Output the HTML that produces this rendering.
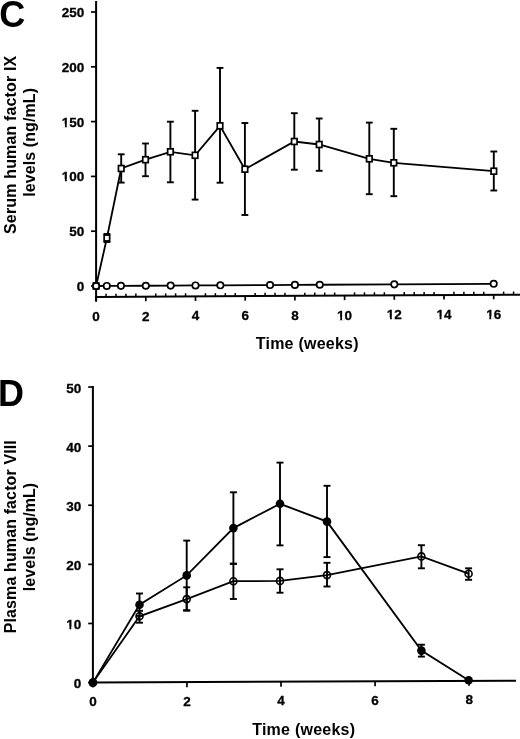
<!DOCTYPE html>
<html><head><meta charset="utf-8"><style>
html,body{margin:0;padding:0;background:#fff;}
body{width:520px;height:739px;overflow:hidden;}
svg{display:block;filter:grayscale(1);}
text{font-family:"Liberation Sans",sans-serif;font-weight:bold;fill:#000;stroke:none;}
text.n{stroke:#000;stroke-width:0.3px;}
</style></head><body>
<svg width="520" height="739" viewBox="0 0 520 739">
<defs><clipPath id="c1"><path clip-rule="evenodd" d="M56.78,161.30H89.30V189.30H56.78ZM61.83,179.10H64.93V182.50H61.83ZM66.78,179.10H69.31V182.50H66.78Z"/></clipPath><clipPath id="c2"><path clip-rule="evenodd" d="M56.78,106.50H89.30V134.50H56.78ZM61.83,124.30H64.93V127.70H61.83ZM66.78,124.30H69.31V127.70H66.78Z"/></clipPath><clipPath id="c3"><path clip-rule="evenodd" d="M332.09,299.53H357.11V327.53H332.09ZM337.14,317.33H340.24V320.73H337.14ZM342.10,317.33H344.62V320.73H342.10Z"/></clipPath><clipPath id="c4"><path clip-rule="evenodd" d="M381.79,299.26H406.81V327.26H381.79ZM386.84,317.06H389.94V320.46H386.84ZM391.80,317.06H394.32V320.46H391.80Z"/></clipPath><clipPath id="c5"><path clip-rule="evenodd" d="M431.49,298.99H456.51V326.99H431.49ZM436.54,316.79H439.64V320.19H436.54ZM441.50,316.79H444.02V320.19H441.50Z"/></clipPath><clipPath id="c6"><path clip-rule="evenodd" d="M481.19,298.71H506.21V326.71H481.19ZM486.24,316.51H489.34V319.91H486.24ZM491.20,316.51H493.72V319.91H491.20Z"/></clipPath><clipPath id="c7"><path clip-rule="evenodd" d="M61.28,608.98H86.30V636.98H61.28ZM66.33,626.78H69.43V630.18H66.33ZM71.29,626.78H73.82V630.18H71.29Z"/></clipPath></defs>
<rect width="520" height="739" fill="#fff"/>
<g stroke="#000" stroke-linecap="butt">
<line x1="96.10" y1="1.00" x2="96.10" y2="301.50" stroke-width="2.0"/>
<line x1="91.00" y1="286.00" x2="96.10" y2="286.00" stroke-width="1.7"/>
<text class="n" x="84.30" y="290.90" font-size="13.5" text-anchor="end" >0</text>
<line x1="91.00" y1="231.20" x2="96.10" y2="231.20" stroke-width="1.7"/>
<text class="n" x="84.30" y="236.10" font-size="13.5" text-anchor="end" >50</text>
<line x1="91.00" y1="176.40" x2="96.10" y2="176.40" stroke-width="1.7"/>
<text class="n" x="84.30" y="181.30" font-size="13.5" text-anchor="end" clip-path="url(#c1)" >100</text>
<line x1="91.00" y1="121.60" x2="96.10" y2="121.60" stroke-width="1.7"/>
<text class="n" x="84.30" y="126.50" font-size="13.5" text-anchor="end" clip-path="url(#c2)" >150</text>
<line x1="91.00" y1="66.80" x2="96.10" y2="66.80" stroke-width="1.7"/>
<text class="n" x="84.30" y="71.70" font-size="13.5" text-anchor="end" >200</text>
<line x1="91.00" y1="12.00" x2="96.10" y2="12.00" stroke-width="1.7"/>
<text class="n" x="84.30" y="16.90" font-size="13.5" text-anchor="end" >250</text>
<line x1="95.10" y1="297.00" x2="520.00" y2="294.66" stroke-width="2.0"/>
<line x1="96.10" y1="297.00" x2="96.10" y2="301.50" stroke-width="1.7"/>
<text class="n" x="96.10" y="320.90" font-size="13.5" text-anchor="middle" >0</text>
<line x1="106.04" y1="296.94" x2="106.04" y2="293.74" stroke-width="1.5"/>
<line x1="115.98" y1="296.89" x2="115.98" y2="293.69" stroke-width="1.5"/>
<line x1="125.92" y1="296.83" x2="125.92" y2="293.63" stroke-width="1.5"/>
<line x1="135.86" y1="296.78" x2="135.86" y2="293.58" stroke-width="1.5"/>
<line x1="145.80" y1="296.72" x2="145.80" y2="301.22" stroke-width="1.7"/>
<text class="n" x="145.80" y="320.63" font-size="13.5" text-anchor="middle" >2</text>
<line x1="155.74" y1="296.67" x2="155.74" y2="293.47" stroke-width="1.5"/>
<line x1="165.68" y1="296.61" x2="165.68" y2="293.41" stroke-width="1.5"/>
<line x1="175.62" y1="296.56" x2="175.62" y2="293.36" stroke-width="1.5"/>
<line x1="185.56" y1="296.50" x2="185.56" y2="293.30" stroke-width="1.5"/>
<line x1="195.50" y1="296.45" x2="195.50" y2="300.95" stroke-width="1.7"/>
<text class="n" x="195.50" y="320.35" font-size="13.5" text-anchor="middle" >4</text>
<line x1="205.44" y1="296.39" x2="205.44" y2="293.19" stroke-width="1.5"/>
<line x1="215.38" y1="296.34" x2="215.38" y2="293.14" stroke-width="1.5"/>
<line x1="225.32" y1="296.28" x2="225.32" y2="293.08" stroke-width="1.5"/>
<line x1="235.26" y1="296.23" x2="235.26" y2="293.03" stroke-width="1.5"/>
<line x1="245.20" y1="296.17" x2="245.20" y2="300.67" stroke-width="1.7"/>
<text class="n" x="245.20" y="320.08" font-size="13.5" text-anchor="middle" >6</text>
<line x1="255.14" y1="296.12" x2="255.14" y2="292.92" stroke-width="1.5"/>
<line x1="265.08" y1="296.06" x2="265.08" y2="292.86" stroke-width="1.5"/>
<line x1="275.02" y1="296.01" x2="275.02" y2="292.81" stroke-width="1.5"/>
<line x1="284.96" y1="295.96" x2="284.96" y2="292.76" stroke-width="1.5"/>
<line x1="294.90" y1="295.90" x2="294.90" y2="300.40" stroke-width="1.7"/>
<text class="n" x="294.90" y="319.81" font-size="13.5" text-anchor="middle" >8</text>
<line x1="304.84" y1="295.85" x2="304.84" y2="292.65" stroke-width="1.5"/>
<line x1="314.78" y1="295.79" x2="314.78" y2="292.59" stroke-width="1.5"/>
<line x1="324.72" y1="295.74" x2="324.72" y2="292.54" stroke-width="1.5"/>
<line x1="334.66" y1="295.68" x2="334.66" y2="292.48" stroke-width="1.5"/>
<line x1="344.60" y1="295.63" x2="344.60" y2="300.13" stroke-width="1.7"/>
<text class="n" x="344.60" y="319.53" font-size="13.5" text-anchor="middle" clip-path="url(#c3)" >10</text>
<line x1="354.54" y1="295.57" x2="354.54" y2="292.37" stroke-width="1.5"/>
<line x1="364.48" y1="295.52" x2="364.48" y2="292.32" stroke-width="1.5"/>
<line x1="374.42" y1="295.46" x2="374.42" y2="292.26" stroke-width="1.5"/>
<line x1="384.36" y1="295.41" x2="384.36" y2="292.21" stroke-width="1.5"/>
<line x1="394.30" y1="295.35" x2="394.30" y2="299.85" stroke-width="1.7"/>
<text class="n" x="394.30" y="319.26" font-size="13.5" text-anchor="middle" clip-path="url(#c4)" >12</text>
<line x1="404.24" y1="295.30" x2="404.24" y2="292.10" stroke-width="1.5"/>
<line x1="414.18" y1="295.24" x2="414.18" y2="292.04" stroke-width="1.5"/>
<line x1="424.12" y1="295.19" x2="424.12" y2="291.99" stroke-width="1.5"/>
<line x1="434.06" y1="295.13" x2="434.06" y2="291.93" stroke-width="1.5"/>
<line x1="444.00" y1="295.08" x2="444.00" y2="299.58" stroke-width="1.7"/>
<text class="n" x="444.00" y="318.99" font-size="13.5" text-anchor="middle" clip-path="url(#c5)" >14</text>
<line x1="453.94" y1="295.02" x2="453.94" y2="291.82" stroke-width="1.5"/>
<line x1="463.88" y1="294.97" x2="463.88" y2="291.77" stroke-width="1.5"/>
<line x1="473.82" y1="294.91" x2="473.82" y2="291.71" stroke-width="1.5"/>
<line x1="483.76" y1="294.86" x2="483.76" y2="291.66" stroke-width="1.5"/>
<line x1="493.70" y1="294.80" x2="493.70" y2="299.30" stroke-width="1.7"/>
<text class="n" x="493.70" y="318.71" font-size="13.5" text-anchor="middle" clip-path="url(#c6)" >16</text>
<line x1="503.64" y1="294.75" x2="503.64" y2="291.55" stroke-width="1.5"/>
<line x1="513.58" y1="294.69" x2="513.58" y2="291.49" stroke-width="1.5"/>
<text x="307.15" y="348.90" font-size="16" text-anchor="middle" textLength="102.8" lengthAdjust="spacing">Time (weeks)</text>
<text transform="translate(16.1,144.85) rotate(-90)" font-size="16" text-anchor="middle" textLength="178.3" lengthAdjust="spacing">Serum human factor IX</text>
<text transform="translate(34.6,142.35) rotate(-90)" font-size="16" text-anchor="middle" textLength="108.7" lengthAdjust="spacing">levels (ng/mL)</text>
<text x="-0.8" y="27" font-size="36">C</text>
<line x1="106.90" y1="234.00" x2="106.90" y2="242.00" stroke-width="1.9"/>
<line x1="103.50" y1="234.00" x2="110.30" y2="234.00" stroke-width="1.9"/>
<line x1="103.50" y1="242.00" x2="110.30" y2="242.00" stroke-width="1.9"/>
<line x1="121.20" y1="154.30" x2="121.20" y2="182.60" stroke-width="1.9"/>
<line x1="117.80" y1="154.30" x2="124.60" y2="154.30" stroke-width="1.9"/>
<line x1="117.80" y1="182.60" x2="124.60" y2="182.60" stroke-width="1.9"/>
<line x1="145.50" y1="143.50" x2="145.50" y2="176.20" stroke-width="1.9"/>
<line x1="142.10" y1="143.50" x2="148.90" y2="143.50" stroke-width="1.9"/>
<line x1="142.10" y1="176.20" x2="148.90" y2="176.20" stroke-width="1.9"/>
<line x1="170.40" y1="121.70" x2="170.40" y2="182.30" stroke-width="1.9"/>
<line x1="167.00" y1="121.70" x2="173.80" y2="121.70" stroke-width="1.9"/>
<line x1="167.00" y1="182.30" x2="173.80" y2="182.30" stroke-width="1.9"/>
<line x1="195.10" y1="110.80" x2="195.10" y2="199.60" stroke-width="1.9"/>
<line x1="191.70" y1="110.80" x2="198.50" y2="110.80" stroke-width="1.9"/>
<line x1="191.70" y1="199.60" x2="198.50" y2="199.60" stroke-width="1.9"/>
<line x1="220.00" y1="67.90" x2="220.00" y2="182.70" stroke-width="1.9"/>
<line x1="216.60" y1="67.90" x2="223.40" y2="67.90" stroke-width="1.9"/>
<line x1="216.60" y1="182.70" x2="223.40" y2="182.70" stroke-width="1.9"/>
<line x1="244.90" y1="123.00" x2="244.90" y2="215.00" stroke-width="1.9"/>
<line x1="241.50" y1="123.00" x2="248.30" y2="123.00" stroke-width="1.9"/>
<line x1="241.50" y1="215.00" x2="248.30" y2="215.00" stroke-width="1.9"/>
<line x1="294.30" y1="113.20" x2="294.30" y2="169.70" stroke-width="1.9"/>
<line x1="290.90" y1="113.20" x2="297.70" y2="113.20" stroke-width="1.9"/>
<line x1="290.90" y1="169.70" x2="297.70" y2="169.70" stroke-width="1.9"/>
<line x1="319.20" y1="118.50" x2="319.20" y2="170.80" stroke-width="1.9"/>
<line x1="315.80" y1="118.50" x2="322.60" y2="118.50" stroke-width="1.9"/>
<line x1="315.80" y1="170.80" x2="322.60" y2="170.80" stroke-width="1.9"/>
<line x1="369.30" y1="122.60" x2="369.30" y2="194.20" stroke-width="1.9"/>
<line x1="365.90" y1="122.60" x2="372.70" y2="122.60" stroke-width="1.9"/>
<line x1="365.90" y1="194.20" x2="372.70" y2="194.20" stroke-width="1.9"/>
<line x1="393.80" y1="128.80" x2="393.80" y2="196.20" stroke-width="1.9"/>
<line x1="390.40" y1="128.80" x2="397.20" y2="128.80" stroke-width="1.9"/>
<line x1="390.40" y1="196.20" x2="397.20" y2="196.20" stroke-width="1.9"/>
<line x1="493.80" y1="151.50" x2="493.80" y2="190.50" stroke-width="1.9"/>
<line x1="490.40" y1="151.50" x2="497.20" y2="151.50" stroke-width="1.9"/>
<line x1="490.40" y1="190.50" x2="497.20" y2="190.50" stroke-width="1.9"/>
<polyline points="96.10,286.00 106.90,238.00 121.20,168.50 145.50,159.70 170.40,151.80 195.10,155.30 220.00,125.80 244.90,169.20 294.30,141.50 319.20,144.50 369.30,158.80 393.80,162.80 493.80,171.20" fill="none" stroke-width="1.8"/>
<polyline points="96.10,286.00 106.79,285.94 120.95,285.86 145.80,285.73 170.65,285.59 195.50,285.45 220.35,285.32 270.05,285.04 294.90,284.91 319.75,284.77 394.30,284.36 493.70,283.81" fill="none" stroke-width="1.8"/>
<rect x="93.35" y="283.05" width="5.5" height="5.9" fill="#fff" stroke-width="1.7"/>
<rect x="104.15" y="235.05" width="5.5" height="5.9" fill="#fff" stroke-width="1.7"/>
<rect x="118.45" y="165.55" width="5.5" height="5.9" fill="#fff" stroke-width="1.7"/>
<rect x="142.75" y="156.75" width="5.5" height="5.9" fill="#fff" stroke-width="1.7"/>
<rect x="167.65" y="148.85" width="5.5" height="5.9" fill="#fff" stroke-width="1.7"/>
<rect x="192.35" y="152.35" width="5.5" height="5.9" fill="#fff" stroke-width="1.7"/>
<rect x="217.25" y="122.85" width="5.5" height="5.9" fill="#fff" stroke-width="1.7"/>
<rect x="242.15" y="166.25" width="5.5" height="5.9" fill="#fff" stroke-width="1.7"/>
<rect x="291.55" y="138.55" width="5.5" height="5.9" fill="#fff" stroke-width="1.7"/>
<rect x="316.45" y="141.55" width="5.5" height="5.9" fill="#fff" stroke-width="1.7"/>
<rect x="366.55" y="155.85" width="5.5" height="5.9" fill="#fff" stroke-width="1.7"/>
<rect x="391.05" y="159.85" width="5.5" height="5.9" fill="#fff" stroke-width="1.7"/>
<rect x="491.05" y="168.25" width="5.5" height="5.9" fill="#fff" stroke-width="1.7"/>
<circle cx="96.10" cy="286.00" r="3.2" fill="#fff" stroke-width="1.7"/>
<circle cx="106.79" cy="285.94" r="3.2" fill="#fff" stroke-width="1.7"/>
<circle cx="120.95" cy="285.86" r="3.2" fill="#fff" stroke-width="1.7"/>
<circle cx="145.80" cy="285.73" r="3.2" fill="#fff" stroke-width="1.7"/>
<circle cx="170.65" cy="285.59" r="3.2" fill="#fff" stroke-width="1.7"/>
<circle cx="195.50" cy="285.45" r="3.2" fill="#fff" stroke-width="1.7"/>
<circle cx="220.35" cy="285.32" r="3.2" fill="#fff" stroke-width="1.7"/>
<circle cx="270.05" cy="285.04" r="3.2" fill="#fff" stroke-width="1.7"/>
<circle cx="294.90" cy="284.91" r="3.2" fill="#fff" stroke-width="1.7"/>
<circle cx="319.75" cy="284.77" r="3.2" fill="#fff" stroke-width="1.7"/>
<circle cx="394.30" cy="284.36" r="3.2" fill="#fff" stroke-width="1.7"/>
<circle cx="493.70" cy="283.81" r="3.2" fill="#fff" stroke-width="1.7"/>
<line x1="92.90" y1="386.10" x2="92.90" y2="683.60" stroke-width="2.0"/>
<line x1="88.20" y1="682.60" x2="92.90" y2="682.60" stroke-width="1.7"/>
<text class="n" x="81.30" y="688.10" font-size="13.5" text-anchor="end" >0</text>
<line x1="88.20" y1="623.48" x2="92.90" y2="623.48" stroke-width="1.7"/>
<text class="n" x="81.30" y="628.98" font-size="13.5" text-anchor="end" clip-path="url(#c7)" >10</text>
<line x1="88.20" y1="564.36" x2="92.90" y2="564.36" stroke-width="1.7"/>
<text class="n" x="81.30" y="569.86" font-size="13.5" text-anchor="end" >20</text>
<line x1="88.20" y1="505.24" x2="92.90" y2="505.24" stroke-width="1.7"/>
<text class="n" x="81.30" y="510.74" font-size="13.5" text-anchor="end" >30</text>
<line x1="88.20" y1="446.12" x2="92.90" y2="446.12" stroke-width="1.7"/>
<text class="n" x="81.30" y="451.62" font-size="13.5" text-anchor="end" >40</text>
<line x1="88.20" y1="387.00" x2="92.90" y2="387.00" stroke-width="1.7"/>
<text class="n" x="81.30" y="392.50" font-size="13.5" text-anchor="end" >50</text>
<line x1="91.90" y1="682.60" x2="516.00" y2="680.65" stroke-width="2.0"/>
<line x1="92.90" y1="682.60" x2="92.90" y2="687.60" stroke-width="1.7"/>
<text class="n" x="92.90" y="706.30" font-size="13.5" text-anchor="middle" >0</text>
<line x1="186.96" y1="682.17" x2="186.96" y2="687.17" stroke-width="1.7"/>
<text class="n" x="186.96" y="705.81" font-size="13.5" text-anchor="middle" >2</text>
<line x1="281.02" y1="681.73" x2="281.02" y2="686.73" stroke-width="1.7"/>
<text class="n" x="281.02" y="705.32" font-size="13.5" text-anchor="middle" >4</text>
<line x1="375.08" y1="681.30" x2="375.08" y2="686.30" stroke-width="1.7"/>
<text class="n" x="375.08" y="704.83" font-size="13.5" text-anchor="middle" >6</text>
<line x1="469.14" y1="680.87" x2="469.14" y2="685.87" stroke-width="1.7"/>
<text class="n" x="469.14" y="704.34" font-size="13.5" text-anchor="middle" >8</text>
<text x="303.60" y="734.90" font-size="16" text-anchor="middle" textLength="102.8" lengthAdjust="spacing">Time (weeks)</text>
<text transform="translate(16.1,536.75) rotate(-90)" font-size="16" text-anchor="middle" textLength="193.1" lengthAdjust="spacing">Plasma human factor VIII</text>
<text transform="translate(34.6,537.0) rotate(-90)" font-size="16" text-anchor="middle" textLength="108.4" lengthAdjust="spacing">levels (ng/mL)</text>
<text x="-1.9" y="406.2" font-size="36">D</text>
<line x1="139.50" y1="593.50" x2="139.50" y2="615.90" stroke-width="1.9"/>
<line x1="136.00" y1="593.50" x2="143.00" y2="593.50" stroke-width="1.9"/>
<line x1="136.00" y1="615.90" x2="143.00" y2="615.90" stroke-width="1.9"/>
<line x1="186.70" y1="540.60" x2="186.70" y2="610.20" stroke-width="1.9"/>
<line x1="183.20" y1="540.60" x2="190.20" y2="540.60" stroke-width="1.9"/>
<line x1="183.20" y1="610.20" x2="190.20" y2="610.20" stroke-width="1.9"/>
<line x1="233.40" y1="492.30" x2="233.40" y2="563.90" stroke-width="1.9"/>
<line x1="229.90" y1="492.30" x2="236.90" y2="492.30" stroke-width="1.9"/>
<line x1="229.90" y1="563.90" x2="236.90" y2="563.90" stroke-width="1.9"/>
<line x1="280.00" y1="462.60" x2="280.00" y2="545.40" stroke-width="1.9"/>
<line x1="276.50" y1="462.60" x2="283.50" y2="462.60" stroke-width="1.9"/>
<line x1="276.50" y1="545.40" x2="283.50" y2="545.40" stroke-width="1.9"/>
<line x1="327.00" y1="485.80" x2="327.00" y2="557.10" stroke-width="1.9"/>
<line x1="323.50" y1="485.80" x2="330.50" y2="485.80" stroke-width="1.9"/>
<line x1="323.50" y1="557.10" x2="330.50" y2="557.10" stroke-width="1.9"/>
<line x1="421.40" y1="644.70" x2="421.40" y2="656.60" stroke-width="1.9"/>
<line x1="417.90" y1="644.70" x2="424.90" y2="644.70" stroke-width="1.9"/>
<line x1="417.90" y1="656.60" x2="424.90" y2="656.60" stroke-width="1.9"/>
<line x1="139.50" y1="610.80" x2="139.50" y2="622.70" stroke-width="1.9"/>
<line x1="136.00" y1="610.80" x2="143.00" y2="610.80" stroke-width="1.9"/>
<line x1="136.00" y1="622.70" x2="143.00" y2="622.70" stroke-width="1.9"/>
<line x1="186.70" y1="587.30" x2="186.70" y2="610.70" stroke-width="1.9"/>
<line x1="183.20" y1="587.30" x2="190.20" y2="587.30" stroke-width="1.9"/>
<line x1="183.20" y1="610.70" x2="190.20" y2="610.70" stroke-width="1.9"/>
<line x1="233.40" y1="563.60" x2="233.40" y2="599.00" stroke-width="1.9"/>
<line x1="229.90" y1="563.60" x2="236.90" y2="563.60" stroke-width="1.9"/>
<line x1="229.90" y1="599.00" x2="236.90" y2="599.00" stroke-width="1.9"/>
<line x1="280.00" y1="569.30" x2="280.00" y2="592.70" stroke-width="1.9"/>
<line x1="276.50" y1="569.30" x2="283.50" y2="569.30" stroke-width="1.9"/>
<line x1="276.50" y1="592.70" x2="283.50" y2="592.70" stroke-width="1.9"/>
<line x1="327.00" y1="562.80" x2="327.00" y2="586.50" stroke-width="1.9"/>
<line x1="323.50" y1="562.80" x2="330.50" y2="562.80" stroke-width="1.9"/>
<line x1="323.50" y1="586.50" x2="330.50" y2="586.50" stroke-width="1.9"/>
<line x1="421.40" y1="545.20" x2="421.40" y2="568.30" stroke-width="1.9"/>
<line x1="417.90" y1="545.20" x2="424.90" y2="545.20" stroke-width="1.9"/>
<line x1="417.90" y1="568.30" x2="424.90" y2="568.30" stroke-width="1.9"/>
<line x1="468.60" y1="568.30" x2="468.60" y2="579.80" stroke-width="1.9"/>
<line x1="465.10" y1="568.30" x2="472.10" y2="568.30" stroke-width="1.9"/>
<line x1="465.10" y1="579.80" x2="472.10" y2="579.80" stroke-width="1.9"/>
<polyline points="92.90,682.60 139.50,604.70 186.70,575.40 233.40,528.10 280.00,503.80 327.00,521.60 421.40,650.60 468.60,680.20" fill="none" stroke-width="1.8"/>
<polyline points="92.90,682.60 139.50,616.30 186.70,599.10 233.40,581.20 280.00,580.90 327.00,575.10 421.40,556.40 468.60,573.70" fill="none" stroke-width="1.8"/>
<circle cx="92.90" cy="682.60" r="3.5" fill="none" stroke-width="1.6"/>
<circle cx="139.50" cy="616.30" r="3.5" fill="none" stroke-width="1.6"/>
<circle cx="186.70" cy="599.10" r="3.5" fill="none" stroke-width="1.6"/>
<circle cx="233.40" cy="581.20" r="3.5" fill="none" stroke-width="1.6"/>
<circle cx="280.00" cy="580.90" r="3.5" fill="none" stroke-width="1.6"/>
<circle cx="327.00" cy="575.10" r="3.5" fill="none" stroke-width="1.6"/>
<circle cx="421.40" cy="556.40" r="3.5" fill="none" stroke-width="1.6"/>
<circle cx="468.60" cy="573.70" r="3.5" fill="none" stroke-width="1.6"/>
<circle cx="92.90" cy="682.60" r="4.3" fill="#000" stroke="none"/>
<circle cx="139.50" cy="604.70" r="4.3" fill="#000" stroke="none"/>
<circle cx="186.70" cy="575.40" r="4.3" fill="#000" stroke="none"/>
<circle cx="233.40" cy="528.10" r="4.3" fill="#000" stroke="none"/>
<circle cx="280.00" cy="503.80" r="4.3" fill="#000" stroke="none"/>
<circle cx="327.00" cy="521.60" r="4.3" fill="#000" stroke="none"/>
<circle cx="421.40" cy="650.60" r="4.3" fill="#000" stroke="none"/>
<circle cx="468.60" cy="680.20" r="4.3" fill="#000" stroke="none"/>
</g>
</svg>
</body></html>
